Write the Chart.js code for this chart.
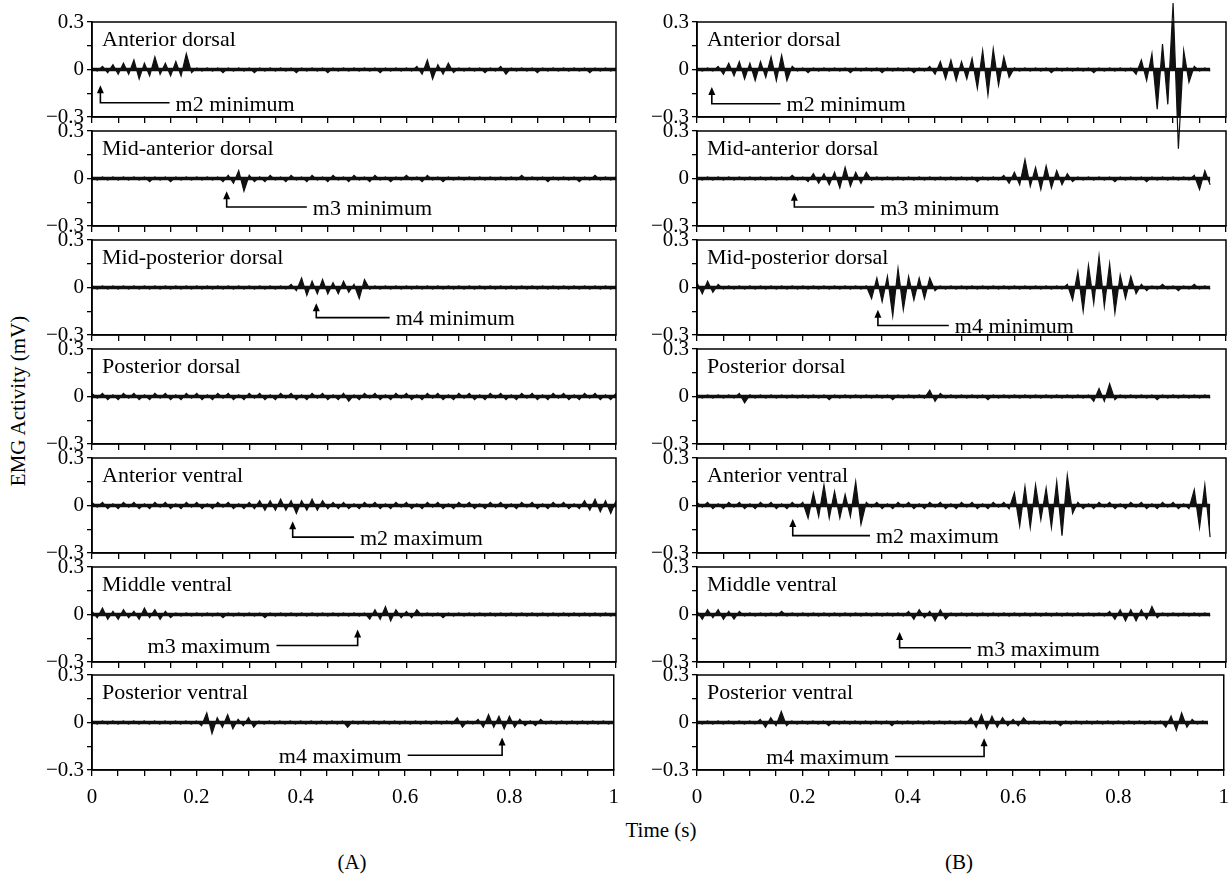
<!DOCTYPE html>
<html>
<head>
<meta charset="utf-8">
<script src="https://cdn.jsdelivr.net/npm/chart.js@4.4.0/dist/chart.umd.min.js"></script>
<style>
  body { margin: 0; background: #fff; }
  #fig { position: relative; width: 1232px; height: 875px; overflow: hidden; font-family: "Liberation Serif", "DejaVu Serif", serif; color: #000; }
  #fig canvas { position: absolute; }
  .lbl { position: absolute; font-size: 21px; white-space: nowrap; transform: translate(-50%, -50%); }
</style>
</head>
<body>
<div id="fig">
  <div class="lbl" style="left:18px; top:401px; transform: translate(-50%, -50%) rotate(-90deg);">EMG Activity (mV)</div>
  <div class="lbl" style="left:661px; top:830px;">Time (s)</div>
  <div class="lbl" style="left:352px; top:862px;">(A)</div>
  <div class="lbl" style="left:959px; top:862px;">(B)</div>
</div>
<script>
// one sample every 10 ms, values in 0.01 mV
var STEP = 0.01;
var UNIT = 0.01;

var muscles = ["Anterior dorsal", "Mid-anterior dorsal", "Mid-posterior dorsal", "Posterior dorsal",
               "Anterior ventral", "Middle ventral", "Posterior ventral"];
var xTickLabels = [0, 0.2, 0.4, 0.6, 0.8, 1];
var yTickLabels = [-0.3, 0, 0.3];

// (A)
var antDorsalA = [1,-1,2,-2,3,-3,4,-3,6,-6, 4,-4,8,-3,4,-4,5,-4,10,-2, 1,-1,1,-1,1,-2,1,-1,1,-1, 1,-2,1,-1,1,-1,1,-1,1,-2,
  1,-1,1,-1,1,-2,1,-1,1,-1, 1,-1,1,-1,1,-2,1,-1,1,-1, 1,-1,2,-3,6,-6,3,-3,4,-2, 1,-1,1,-1,1,-2,1,-1,2,-3,
  1,-1,1,-1,1,-2,1,-1,1,-1, 1,-1,1,-1,1,-2,1,-1,1,-1, 1];
var midAntDorsalA = [1,-1,1,-1,1,-1,1,-1,1,-1, 1,-2,1,-1,1,-2,1,-1,1,-1, 1,-1,1,-1,1,-2,2,-3,5,-8, 2,-2,1,-2,2,-1,1,-2,2,-1,
  1,-2,2,-1,1,-2,2,-1,1,-2, 2,-1,1,-2,2,-1,1,-2,1,-1, 2,-1,1,-2,2,-1,1,-2,1,-1, 1,-1,1,-1,1,-1,1,-1,1,-1,
  1,-1,2,-1,1,-1,1,-2,1,-1, 1,-1,1,-2,1,-1,2,-1,1,-1, 1];
var midPostDorsalA = [1,-1,1,-1,1,-1,1,-1,1,-1, 1,-1,1,-1,1,-1,1,-1,1,-1, 1,-1,1,-1,1,-1,1,-1,1,-1, 1,-1,1,-1,1,-1,1,-1,2,-2,
  6,-5,4,-4,5,-4,3,-4,4,-3, 2,-7,5,-1,1,-1,1,-1,1,-1, 1,-1,1,-1,1,-1,1,-1,1,-1, 1,-1,1,-1,1,-1,1,-1,1,-1,
  1,-1,1,-1,1,-1,1,-1,1,-1, 1,-1,1,-1,1,-1,1,-1,1,-1, 1];
var postDorsalA = [2,-1,2,-2,1,-2,2,-1,2,-2, 1,-2,2,-1,2,-2,1,-2,2,-1, 2,-2,1,-2,2,-1,2,-2,1,-2, 2,-1,2,-2,1,-2,2,-1,2,-2,
  1,-2,2,-1,2,-2,1,-2,2,-3, 1,-2,2,-1,2,-2,1,-2,2,-1, 2,-2,1,-2,2,-1,2,-2,1,-2, 2,-1,2,-2,1,-2,2,-1,2,-2,
  1,-2,2,-1,2,-2,1,-2,2,-1, 2,-2,1,-2,2,-1,2,-2,1,-2, 2];
var antVentralA = [2,-1,2,-2,1,-2,2,-1,2,-2, 1,-2,2,-1,2,-2,1,-2,2,-1, 2,-2,1,-2,2,-1,2,-2,1,-2, 2,-2,3,-3,3,-3,4,-3,3,-5,
  3,-3,4,-3,3,-2,2,-2,2,-2, 1,-2,2,-1,2,-2,1,-2,2,-1, 2,-2,1,-2,2,-1,2,-2,1,-2, 2,-1,2,-2,1,-2,2,-1,2,-2,
  1,-2,2,-1,2,-2,1,-2,2,-1, 2,-2,1,-2,3,-3,4,-4,3,-5, 3];
var midVentralA = [2,-2,4,-3,2,-3,3,-2,2,-3, 4,-2,3,-3,2,-2,1,-1,1,-1, 1,-1,1,-1,1,-2,1,-1,1,-1, 1,-1,1,-2,1,-1,1,-1,1,-1,
  1,-1,1,-1,1,-1,1,-1,1,-1, 1,-1,1,-3,3,-3,5,-4,3,-2, 2,-2,3,-1,1,-1,1,-2,1,-1, 1,-1,1,-1,1,-1,1,-1,1,-1,
  1,-1,1,-1,1,-1,1,-1,1,-1, 1,-1,1,-1,1,-1,1,-1,1,-1, 1];
var postVentralA = [1,-1,1,-1,1,-1,1,-1,1,-1, 1,-1,1,-1,1,-1,1,-1,1,-1, 1,-2,6,-7,3,-3,5,-4,2,-2, 3,-3,1,-1,1,-1,1,-1,1,-1,
  1,-1,1,-1,1,-1,1,-1,1,-3, 1,-1,1,-1,1,-1,1,-1,1,-1, 1,-1,1,-1,1,-1,1,-1,1,-1, 3,-3,1,-1,2,-3,5,-3,4,-4,
  4,-3,2,-2,1,-2,2,-1,1,-1, 1,-1,1,-1,1,-1,1,-1,1,-1, 1];

// (B)
var antDorsalB = [1,-1,1,-1,2,-3,4,-4,5,-6, 4,-7,5,-5,8,-7,9,-7,2,-1, 1,-2,1,-1,1,-1,1,-1,1,-2, 1,-1,1,-1,1,-2,1,-1,1,-1,
  1,-2,1,-1,2,-3,5,-6,6,-7, 5,-6,7,-12,12,-16,13,-10,8,-5, 1,-1,1,-1,1,-1,1,-2,1,-1, 1,-1,1,-1,1,-2,1,-1,1,-1,
  1,-1,1,-3,6,-7,10,-25,16,-22, 42,-50,12,-8,2,-1,1,-1];
var midAntDorsalB = [1,-1,1,-1,1,-1,1,-1,1,-1, 1,-1,1,-1,1,-1,1,-1,2,-1, 1,-2,3,-3,3,-4,4,-6,7,-5, 4,-3,4,-1,1,-1,1,-1,1,-1,
  1,-1,1,-1,1,-1,1,-1,1,-1, 1,-1,1,-2,1,-1,1,-1,2,-3, 4,-4,12,-5,7,-7,8,-6,5,-4, 3,-2,1,-1,1,-1,1,-1,1,-2,
  1,-1,1,-1,1,-2,1,-1,1,-1, 1,-1,1,-1,2,-7,5,-4];
var midPostDorsalB = [3,-4,4,-3,2,-1,1,-1,1,-1, 1,-1,1,-1,1,-1,1,-1,1,-1, 1,-1,1,-1,1,-1,1,-1,1,-1, 1,-1,1,-7,6,-9,7,-18,12,-14,
  7,-8,6,-7,6,-2,1,-1,1,-1, 1,-1,1,-1,1,-1,1,-1,1,-1, 1,-1,1,-1,1,-1,1,-1,1,-1, 2,-8,10,-15,14,-10,20,-12,15,-16,
  8,-7,7,-4,2,-2,1,-1,2,-1, 1,-2,1,-1,2,-1,1,-1];
var postDorsalB = [1,-1,1,-1,1,-1,1,-1,2,-4, 1,-1,1,-1,1,-1,1,-1,1,-1, 1,-1,1,-1,1,-2,1,-1,1,-1, 1,-1,1,-1,1,-1,1,-2,1,-1,
  1,-1,1,-1,4,-3,2,-1,1,-1, 1,-1,1,-1,1,-2,1,-1,1,-1, 1,-1,1,-1,1,-1,1,-1,1,-1, 1,-1,1,-1,1,-3,5,-3,8,-2,
  1,-1,1,-1,1,-1,1,-2,1,-1, 1,-1,1,-1,1,-1,1,-1];
var antVentralB = [2,-1,2,-2,1,-2,2,-1,2,-2, 1,-2,2,-1,2,-2,1,-2,2,-1, 2,-8,8,-7,13,-8,9,-8,7,-7, 15,-12,2,-1,2,-2,1,-2,2,-1,
  2,-2,1,-2,2,-1,2,-2,1,-2, 2,-1,2,-2,1,-2,2,-1,2,-2, 8,-13,12,-14,13,-9,11,-14,15,-19, 19,-5,2,-2,1,-2,2,-1,2,-2,
  1,-2,2,-1,2,-2,1,-2,2,-1, 2,-2,1,-2,10,-14,13,-20];
var midVentralB = [2,-3,3,-2,3,-3,2,-3,2,-1, 1,-1,1,-1,1,-1,2,-1,1,-1, 1,-1,1,-1,1,-1,1,-1,1,-1, 1,-1,1,-1,1,-1,1,-1,1,-1,
  2,-3,3,-2,2,-4,3,-3,1,-1, 1,-1,1,-1,1,-1,1,-1,1,-1, 1,-1,1,-1,1,-1,1,-1,1,-1, 1,-1,1,-1,1,-1,1,-1,2,-3,
  3,-4,3,-4,3,-3,5,-2,1,-1, 1,-1,1,-1,1,-1,1,-1];
var postVentralB = [1,-1,1,-1,1,-1,1,-1,1,-1, 1,-1,2,-3,3,-2,7,-2,1,-1, 1,-1,1,-1,1,-2,1,-1,1,-1, 1,-1,1,-1,1,-1,1,-2,1,-1,
  1,-1,1,-1,1,-1,1,-1,1,-1, 1,-1,3,-3,5,-4,4,-3,3,-2, 2,-2,3,-1,1,-1,1,-1,1,-2, 1,-1,1,-1,1,-1,1,-1,1,-1,
  1,-1,1,-1,1,-1,1,-1,1,-3, 4,-5,6,-3,2,-1,1,-1];

var tracesA = [antDorsalA, midAntDorsalA, midPostDorsalA, postDorsalA, antVentralA, midVentralA, postVentralA];
var tracesB = [antDorsalB, midAntDorsalB, midPostDorsalB, postDorsalB, antVentralB, midVentralB, postVentralB];

// arrow notes: row, arrow time, other end of the line, arrow tip (mV), line level (mV), text
var notesA = [
  [0, 0.016, 0.148, -0.10, -0.21, "m2 minimum"],
  [1, 0.257, 0.41, -0.08, -0.18, "m3 minimum"],
  [2, 0.428, 0.568, -0.10, -0.19, "m4 minimum"],
  [4, 0.383, 0.50, -0.10, -0.20, "m2 maximum"],
  [5, 0.507, 0.352, -0.095, -0.196, "m3 maximum"],
  [6, 0.786, 0.605, -0.095, -0.207, "m4 maximum"]
];
var notesB = [
  [0, 0.028, 0.158, -0.11, -0.216, "m2 minimum"],
  [1, 0.184, 0.335, -0.09, -0.18, "m3 minimum"],
  [2, 0.342, 0.476, -0.14, -0.24, "m4 minimum"],
  [4, 0.181, 0.327, -0.085, -0.19, "m2 maximum"],
  [5, 0.383, 0.518, -0.11, -0.21, "m3 maximum"],
  [6, 0.545, 0.376, -0.10, -0.215, "m4 maximum"]
];

var PLOT_TOP = 22, PLOT_H = 95, PITCH = 108.9;
var COLS = [{left: 92, width: 524}, {left: 697, width: 529}];
var Y_W = 60, PAD_T = 24, PAD_R = 12, X_H = 44;
var FONT = '"Liberation Serif", "DejaVu Serif", serif';

Chart.defaults.font.family = FONT;
Chart.defaults.font.size = 21;
Chart.defaults.color = '#000';

var panelPlugin = {
  id: 'panel',
  afterDatasetsDraw: function(chart, args, o) {
    var a = chart.chartArea, ctx = chart.ctx;
    var xs = chart.scales.x, ys = chart.scales.y;
    ctx.save();
    ctx.strokeStyle = '#000';
    ctx.fillStyle = '#000';
    ctx.lineWidth = 1.5;
    ctx.strokeRect(a.left, a.top, a.right - a.left, a.bottom - a.top);
    ctx.font = '22px ' + FONT;
    ctx.textBaseline = 'middle';
    ctx.textAlign = 'left';
    ctx.fillText(o.title, a.left + 10, a.top + 18);
    var n = o.note;
    if (n) {
      var ax = xs.getPixelForValue(n[1]), ex = xs.getPixelForValue(n[2]);
      var ty = ys.getPixelForValue(n[3]), cy = ys.getPixelForValue(n[4]);
      ctx.lineWidth = 1.6;
      ctx.beginPath();
      ctx.moveTo(ax, ty + 6);
      ctx.lineTo(ax, cy);
      ctx.lineTo(ex, cy);
      ctx.stroke();
      ctx.beginPath();
      ctx.moveTo(ax, ty);
      ctx.lineTo(ax - 3.5, ty + 8);
      ctx.lineTo(ax + 3.5, ty + 8);
      ctx.closePath();
      ctx.fill();
      if (ex > ax) {
        ctx.textAlign = 'left';
        ctx.fillText(n[5], ex + 6, cy + 2);
      } else {
        ctx.textAlign = 'right';
        ctx.fillText(n[5], ex - 6, cy + 2);
      }
    }
    ctx.restore();
  }
};

function tickText(v, list) {
  var r = Math.round(v * 100) / 100;
  if (list.indexOf(r) < 0) return '';
  if (r < 0) return '\u2212' + Math.abs(r);
  return String(r);
}

function drawPanel(col, row, trace, note) {
  var c = COLS[col];
  var canvas = document.createElement('canvas');
  var w = Y_W + c.width + PAD_R, h = PAD_T + PLOT_H + X_H;
  canvas.width = w;
  canvas.height = h;
  canvas.style.left = (c.left - Y_W) + 'px';
  canvas.style.top = (Math.round(PLOT_TOP + row * PITCH) - PAD_T) + 'px';
  canvas.style.width = w + 'px';
  canvas.style.height = h + 'px';
  document.getElementById('fig').appendChild(canvas);

  var pts = [];
  for (var i = 0; i < trace.length; i++) {
    pts.push({x: i * STEP, y: trace[i] * UNIT});
  }
  var base = [{x: 0, y: 0}, {x: (trace.length - 1) * STEP, y: 0}];
  var bottom = row == 6;

  return new Chart(canvas, {
    type: 'line',
    data: {
      datasets: [{
        data: pts,
        borderColor: '#111',
        backgroundColor: '#111',
        borderWidth: 1.2,
        pointRadius: 0,
        tension: 0,
        fill: 'origin',
        clip: false
      }, {
        data: base,
        borderColor: '#111',
        borderWidth: 3.5,
        pointRadius: 0,
        fill: false
      }]
    },
    options: {
      responsive: false,
      animation: false,
      devicePixelRatio: 1,
      layout: {padding: {top: PAD_T, right: PAD_R, left: 0, bottom: 0}},
      plugins: {
        legend: {display: false},
        tooltip: {enabled: false},
        panel: {title: muscles[row], note: note}
      },
      scales: {
        x: {
          type: 'linear', min: 0, max: 1,
          afterFit: function(s) { s.height = X_H; },
          border: {display: true, color: '#000', width: 1.5},
          grid: {drawOnChartArea: false, drawTicks: true, tickLength: 6, color: '#000', lineWidth: 1.3},
          ticks: {
            stepSize: 0.05, autoSkip: false, maxRotation: 0, padding: 9,
            callback: function(v) { return bottom ? tickText(v, xTickLabels) : ''; }
          }
        },
        y: {
          min: -0.3, max: 0.3,
          afterFit: function(s) { s.width = Y_W; },
          border: {display: true, color: '#000', width: 1.5},
          grid: {drawOnChartArea: false, drawTicks: true, tickLength: 5, color: '#000', lineWidth: 1.3},
          ticks: {
            stepSize: 0.15, autoSkip: false, padding: 3,
            callback: function(v) { return tickText(v, yTickLabels); }
          }
        }
      }
    },
    plugins: [panelPlugin]
  });
}

function notesFor(list, row) {
  for (var k = 0; k < list.length; k++) {
    if (list[k][0] == row) return list[k];
  }
  return null;
}

for (var r = 0; r < 7; r++) {
  drawPanel(0, r, tracesA[r], notesFor(notesA, r));
  drawPanel(1, r, tracesB[r], notesFor(notesB, r));
}
</script>
</body>
</html>
